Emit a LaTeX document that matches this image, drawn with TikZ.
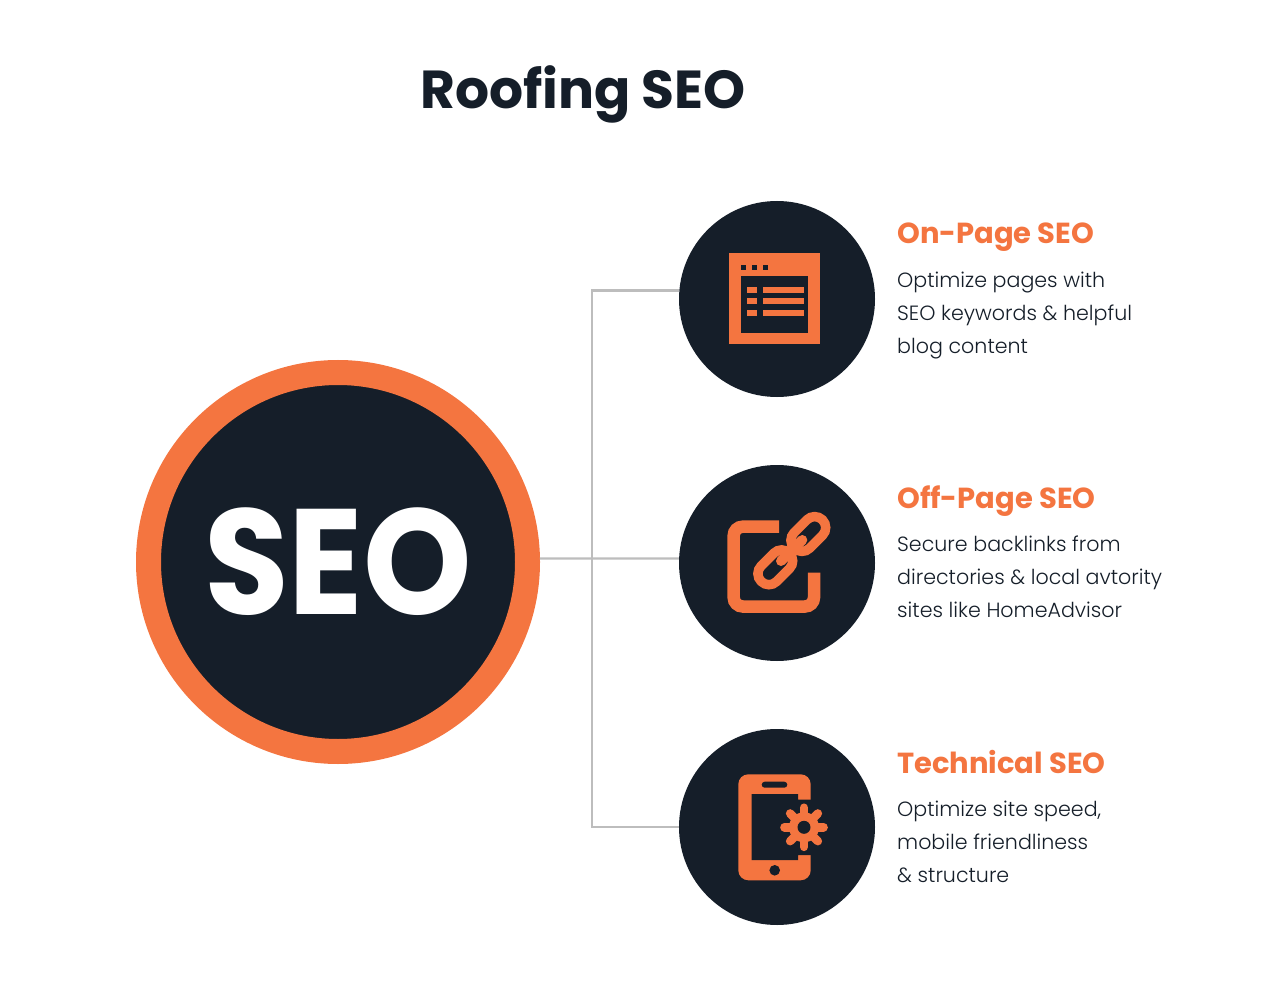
\documentclass[tikz,border=0pt]{standalone}
\usepackage{fontspec}
\usetikzlibrary{positioning}
\setmainfont{Poppins}
\newfontfamily\bodyfont{Poppins Light}
\newfontfamily\hubfont[FakeStretch=0.92]{Poppins}
\definecolor{navy}{HTML}{151E29}
\definecolor{roof}{HTML}{F47540}
\definecolor{wire}{HTML}{BDBDBD}
\tikzset{
  badge/.style={circle,fill=navy,minimum size=196,inner sep=0},
  head/.style={anchor=base west,inner sep=0,text=roof,font=\fontsize{29}{29}\selectfont\bfseries},
  blurb/.style={anchor=base west,inner sep=0,text=navy,font=\bodyfont\fontsize{20.6}{20.6}\selectfont},
  conn/.style={draw=wire,line width=2.2},
  ink/.style={fill=roof},
  hole/.style={fill=navy},
  chain/.style={draw=roof,line width=9.5,rounded corners=10.9}
}
\begin{document}
\begin{tikzpicture}[x=1pt,y=-1pt]
\useasboundingbox (0,0) rectangle (1280,1008);
\fill[white] (0,0) rectangle (1280,1008);
\node[anchor=base,inner sep=0,text=navy,font=\fontsize{53.5}{53.5}\selectfont\bfseries] (title) at (583,109) {Roofing SEO};
% hub
\node[circle,fill=navy,draw=roof,line width=25,minimum size=379,inner sep=0,text=white,font=\hubfont\fontsize{150}{150}\selectfont\bfseries] (seo) at (338,562) {SEO};
% badges
\node[badge] (onpage) at (777,299) {};
\node[badge] (offpage) at (777,563) {};
\node[badge] (technical) at (777,827) {};
\coordinate (bus) at (592,558.47);
% connectors
\path[conn] (seo.1) -- (bus) -- (bus -| offpage.west);
\path[conn] (onpage.175.8) -| (bus) |- (technical.west);
% labels
\node[head] (onhead) at (897,244) {On-Page SEO};
\node[blurb] (on1) at (897,287.5) {Optimize pages with};
\node[blurb] (on2) at (897,320.5) {SEO keywords \& helpful};
\node[blurb] (on3) at (897,353.5) {blog content};
\node[head] (offhead) at (897,508) {Off-Page SEO};
\node[blurb] (off1) at (897,551.5) {Secure backlinks from};
\node[blurb] (off2) at (897,584.5) {directories \& local avtority};
\node[blurb] (off3) at (897,617.5) {sites like HomeAdvisor};
\node[head] (techhead) at (897,773) {Technical SEO};
\node[blurb] (tech1) at (897,816.5) {Optimize site speed,};
\node[blurb] (tech2) at (897,849.5) {mobile friendliness};
\node[blurb] (tech3) at (897,882.5) {\& structure};
% window icon
\fill[ink] (729,253) rectangle (820,344);
\fill[hole] (741,276) rectangle (808,333);
\foreach \x in {741,752,763} \fill[hole] (\x,265) rectangle (\x+5.3,270);
\foreach \y in {287,298.5,310} {
  \fill[ink] (747,\y) rectangle (756.5,\y+6);
  \fill[ink] (763,\y) rectangle (803.5,\y+6);
}
% link icon
\draw[roof,line width=12.5,rounded corners=9] (779,526.7) -- (733.7,526.7) -- (733.7,606.5) -- (814,606.5) -- (814,572.7);
\begin{scope}[shift={(808.3,534)},rotate=45]
  \draw[chain] (-20,-11) rectangle (20,11);
\end{scope}
\begin{scope}[shift={(775.3,567.3)},rotate=45]
  \draw[chain] (-20,-11) rectangle (20,11);
\end{scope}
\draw[roof,line width=10,line cap=round] (781,561) -- (802.3,540);
% phone icon
\fill[ink,rounded corners=10] (738.3,774.3) rectangle (810.7,880.3);
\fill[hole] (751.7,794) -- (798,794) -- (798,799.5) -- (811,799.5) -- (811,855) -- (798,855) -- (798,860) -- (751.7,860) -- cycle;
\fill[hole,rounded corners=3] (761.7,781.7) rectangle (787.3,787.7);
\fill[hole] (774.7,870.3) circle (5.3);
\foreach \a in {0,45,...,315}
  \draw[roof,line width=8.5,line cap=round] (804,827.3) -- ++(\a:19.6);
\fill[ink] (804,827.3) circle (15);
\fill[hole] (804,827.3) circle (6.5);
\end{tikzpicture}
\end{document}
